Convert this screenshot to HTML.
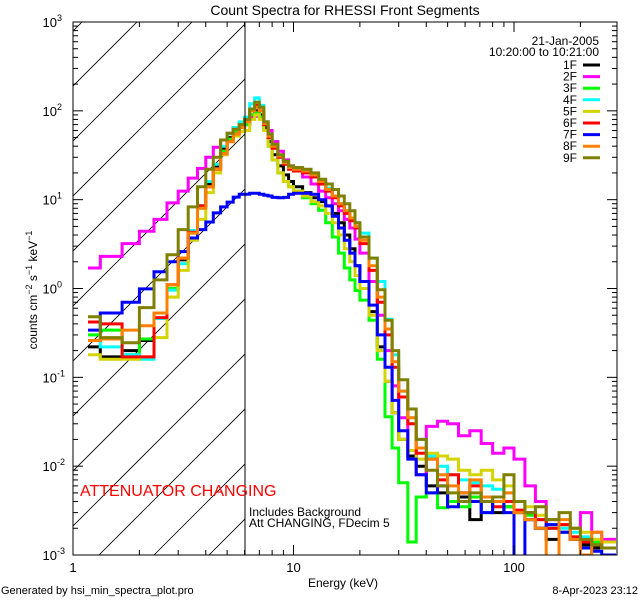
<!DOCTYPE html>
<html><head><meta charset="utf-8"><style>
body{margin:0;background:#fff;}
svg{display:block;font-family:"Liberation Sans",sans-serif;}
</style></head><body>
<svg id="chart" width="640" height="600" viewBox="0 0 640 600" xmlns="http://www.w3.org/2000/svg">
<defs>
<clipPath id="plotclip"><rect x="73" y="22" width="544" height="533"/></clipPath>
<clipPath id="hatchclip"><rect x="73" y="22" width="172" height="533"/></clipPath>
</defs>
<rect width="640" height="600" fill="#fff"/>
<text x="345" y="15" font-size="14" text-anchor="middle">Count Spectra for RHESSI Front Segments</text>
<g id="hatch" clip-path="url(#hatchclip)"></g>
<g id="series" clip-path="url(#plotclip)"></g>
<g id="axes"></g>
<text transform="translate(37,290) rotate(-90)" font-size="12" text-anchor="middle">counts cm<tspan dy="-5" font-size="9">−2</tspan><tspan dy="5"> s</tspan><tspan dy="-5" font-size="9">−1</tspan><tspan dy="5"> keV</tspan><tspan dy="-5" font-size="9">−1</tspan></text>
<text x="343" y="587" font-size="12" text-anchor="middle">Energy (keV)</text>
<text x="599" y="45" font-size="12" text-anchor="end">21-Jan-2005</text>
<text x="599" y="56" font-size="12" text-anchor="end">10:20:00 to 10:21:00</text>
<g id="legend"></g>
<text x="80" y="496" font-size="16" fill="#ff0000">ATTENUATOR CHANGING</text>
<text x="249" y="516" font-size="12">Includes Background</text>
<text x="249" y="527" font-size="12">Att CHANGING, FDecim 5</text>
<text x="1" y="594" font-size="11">Generated by hsi_min_spectra_plot.pro</text>
<text x="638" y="594" font-size="11" text-anchor="end">8-Apr-2023 23:12</text>
</svg>
<script>
const edges=[1.17,1.33,1.67,2,2.33,2.67,3,3.33,3.67,4,4.33,4.67,5,5.33,5.67,6,
6.33,6.67,7,7.33,7.67,8,8.5,9,9.5,10,11,12,13,14,15,16,17,18,19,20,
22,24,26,28,30,33,36,40,45,50,56,63,71,80,90,100,112,125,140,160,180,200,225,250,290];
const seriesNames=["1F","2F","3F","4F","5F","6F","7F","8F","9F"];
const seriesColors=["#000000","#ff00ff","#00ff00","#00ffff","#d4d400","#ff0000","#0000ff","#ff8000","#808000"];
const s1F=[0.22,0.17,0.2,0.26,0.46,1.0,2.1,4.5,8.5,15,24,38,50,60,68,
72,90,100,90,65,45,32,24,19,16,14,12,10.5,9.5,8.5,7,5.5,4,2.8,1.8,
1.2,0.55,0.22,0.09,0.04,0.02,0.013,0.01,0.006,0.005,0.004,0.0045,0.0025,0.004,0.003,0.0035,0.003,0.0025,0.002,0.0015,0.0018,0.0015,0.0013,0.0012,0.0012];
const s2F=[1.7,2.3,3.2,4.4,6.0,9.2,12.5,17.5,22.5,30,39,47,56,65,72,
70,85,87,85,75,60,45,35,28,24,21,18,15,12.5,10.5,9,7.5,6,4.8,3.6,
2.5,1.2,0.5,0.2,0.08,0.035,0.015,0.008,0.028,0.032,0.03,0.022,0.025,0.018,0.014,0.016,0.012,0.006,0.004,0.0025,0.0022,0.002,0.003,0.0018,0.0015];
const s3F=[0.3,0.34,0.18,0.27,0.53,1.0,2.2,4.3,8,14,22,35,48,58,66,
70,90,95,85,60,40,28,20,16,14,12.5,10.5,9,7.6,5.5,3.8,2.5,1.7,1.25,0.95,
0.74,0.44,0.16,0.036,0.016,0.0065,0.0014,0.0045,0.005,0.0034,0.004,0.0035,0.0045,0.003,0.004,0.0035,0.003,0.0028,0.0025,0.002,0.0018,0.0016,0.0015,0.0014];
const s4F=[0.26,0.22,0.18,0.16,0.46,0.96,1.9,4.5,8.5,16,25,40,55,65,75,
85,120,140,115,75,52,38,30,26,23,22,21,19,16,13.5,11,9,7.5,6.2,5.5,
4.2,2.2,1.2,0.45,0.18,0.07,0.035,0.02,0.013,0.01,0.008,0.007,0.0065,0.006,0.0055,0.005,0.004,0.003,0.0025,0.0022,0.002,0.0018,0.0016,0.0015,0.0014];
const s5F=[0.18,0.16,0.16,0.17,0.28,0.8,1.6,3.5,6,12,20,32,45,52,58,
60,80,90,80,60,40,28,20,16,14,12.5,11,9.5,8.5,7,5.5,4,2.8,2,1.4,
1.0,0.5,0.2,0.09,0.04,0.02,0.015,0.012,0.014,0.013,0.012,0.009,0.008,0.009,0.007,0.006,0.003,0.0035,0.0028,0.0025,0.0022,0.002,0.0018,0.0015,0.0014];
const s6F=[0.42,0.40,0.17,0.17,0.47,1.1,2.2,4.3,8.5,14,22,33,45,55,65,
78,100,115,100,70,50,38,30,25,22,21,20,18,15,12.5,10.5,8.5,7,5.8,4.8,
3.2,1.6,0.7,0.3,0.13,0.06,0.03,0.014,0.012,0.007,0.008,0.005,0.006,0.004,0.0035,0.004,0.0032,0.003,0.0025,0.002,0.0022,0.0016,0.0014,0.0013,0.0012];
const s7F=[0.34,0.53,0.70,0.99,1.54,2.0,2.6,3.7,4.6,5.6,7.1,8.3,9.4,10.7,11.5,
11.5,11.8,11.8,11.5,11.2,11,10.6,10.5,10.6,11.5,11.8,11.8,11.5,10,8.5,6.5,4.8,3.5,2.5,1.8,
1.2,0.65,0.3,0.13,0.055,0.025,0.012,0.008,0.005,0.006,0.0035,0.005,0.004,0.003,0.004,0.003,0.0007,0.0025,0.002,0.0022,0.0018,0.0015,0.0012,0.0011,0.001];
const s8F=[0.26,0.27,0.34,0.38,0.53,1.1,2.2,4.2,8,14,22,33,45,55,65,
75,100,110,100,72,52,40,31,26,23,22,21,19,16,13,11,9,7.5,6.2,5,
3.5,1.8,0.8,0.35,0.15,0.07,0.035,0.016,0.012,0.008,0.006,0.005,0.007,0.0045,0.004,0.005,0.003,0.0025,0.002,0.0009,0.0025,0.0015,0.001,0.0018,0.0012];
const s9F=[0.48,0.28,0.245,0.61,1.25,2.4,4.6,8.3,14,22,30,47,56,62,70,
80,105,125,110,75,55,42,32,27,24,23,22,20,17,15,13,11,9,7.5,5.5,
3.8,2.2,0.97,0.44,0.2,0.094,0.044,0.02,0.009,0.006,0.005,0.004,0.005,0.004,0.0045,0.008,0.004,0.003,0.0035,0.0025,0.003,0.002,0.0015,0.0013,0.0012];
const allSeries=[s1F,s2F,s3F,s4F,s5F,s6F,s7F,s8F,s9F];
const xDecades=[1,10,100];
const yDecades=[-3,-2,-1,0,1,2,3];

const NS="http://www.w3.org/2000/svg";
const L=73,R=617,T=22,B=555;
const XD=220.5, YD=(B-T)/6;
function xs(e){return L+XD*Math.log10(e);}
function ys(v){return T+(3-Math.log10(v))*YD;}
function mk(tag,attrs,parent){const el=document.createElementNS(NS,tag);for(const k in attrs)el.setAttribute(k,attrs[k]);parent.appendChild(el);return el;}

// hatch
const hatch=document.getElementById('hatch');
for(let c=104;c<=820;c+=55){
  const ln=mk('line',{x1:c-600,y1:600,x2:c,y2:0,stroke:'#000','stroke-width':0.8},hatch);
  
  
}
const att=mk('line',{x1:245,y1:T,x2:245,y2:B,stroke:'#000','stroke-width':1},document.getElementById('axes'));



// series
const sg=document.getElementById('series');
allSeries.forEach((vals,i)=>{
  let d='M'+xs(edges[0]).toFixed(1)+' '+ys(vals[0]).toFixed(1);
  for(let k=0;k<vals.length;k++){
    if(k>0) d+=' V'+ys(vals[k]).toFixed(1);
    d+=' H'+xs(edges[k+1]).toFixed(1);
  }
  const p=mk('path',{d:d,fill:'none',stroke:seriesColors[i],'stroke-width':3,'stroke-linejoin':'miter'},sg);
  
  
});

// axes
const ax=document.getElementById('axes');
const fr=mk('rect',{x:L,y:T,width:R-L,height:B-T,fill:'none',stroke:'#000','stroke-width':1},ax);


// x ticks
xDecades.forEach(dec=>{
  for(let m=1;m<=9;m++){
    const e=dec*m; const x=xs(e); if(x>R+0.5) continue;
    const len=m===1?10:5;
    mk('line',{x1:x,y1:B,x2:x,y2:B-len,stroke:'#000'},ax);
    mk('line',{x1:x,y1:T,x2:x,y2:T+len,stroke:'#000'},ax);
  }
  const t=mk('text',{x:xs(dec),y:B+17,'font-size':13,'text-anchor':'middle'},ax);
  t.textContent=String(dec);
  
  
});
// y ticks
yDecades.forEach(p=>{
  for(let m=1;m<=9;m++){
    const v=Math.pow(10,p)*m; const y=ys(v); if(y<T-0.5) continue;
    const len=m===1?10:5;
    mk('line',{x1:L,y1:y,x2:L+len,y2:y,stroke:'#000'},ax);
    mk('line',{x1:R,y1:y,x2:R-len,y2:y,stroke:'#000'},ax);
  }
  const t=mk('text',{x:L-16,y:ys(Math.pow(10,p))+5,'font-size':13,'text-anchor':'end'},ax);
  t.textContent='10';
  
  
  const s=mk('text',{x:L-16,y:ys(Math.pow(10,p))-1,'font-size':9,'text-anchor':'start'},ax);
  s.textContent=String(p);
  
  
});

// legend
const lg=document.getElementById('legend');
seriesNames.forEach((n,i)=>{
  const y=65+i*11.6;
  const g=mk('g',{},lg);
  
  
  const t=mk('text',{x:577,y:y+4,'font-size':12,'text-anchor':'end'},g);
  t.textContent=n;
  mk('line',{x1:583,y1:y,x2:600,y2:y,stroke:seriesColors[i],'stroke-width':3},g);
});
</script>
</body></html>
